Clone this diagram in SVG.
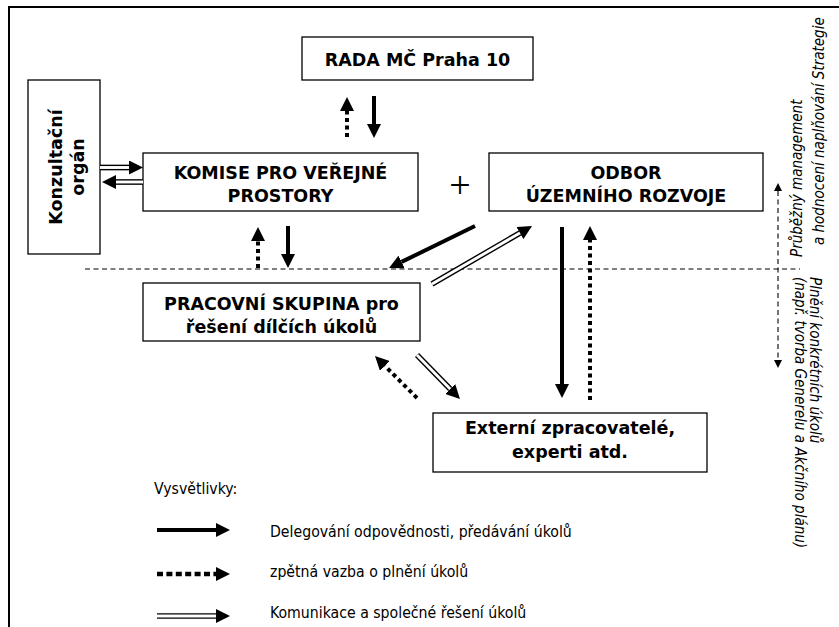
<svg xmlns="http://www.w3.org/2000/svg" width="839" height="627" viewBox="0 0 839 627">
<defs>
<style>
.box{fill:#fff;stroke:#000;stroke-width:1.3}
.b{font-family:"DejaVu Sans",Verdana,sans-serif;font-weight:bold;font-size:17.5px;text-anchor:middle;fill:#000}
.r{font-family:"DejaVu Sans Condensed","DejaVu Sans",sans-serif;font-stretch:condensed;font-size:15.7px;fill:#000}
.it{font-family:"DejaVu Sans Condensed","DejaVu Sans",sans-serif;font-stretch:condensed;font-style:italic;font-size:15px;fill:#000}
.solid{stroke:#000;stroke-width:4;fill:none;marker-end:url(#head)}
.dot{stroke:#000;stroke-width:4;stroke-dasharray:4 3.5;fill:none;marker-end:url(#head)}
.dbl{stroke:#000;stroke-width:5.7;fill:none;marker-end:url(#head)}
.dblin{stroke:#fff;stroke-width:2.9;fill:none}
.thin{stroke:#000;stroke-width:1.1;stroke-dasharray:5 3.5;fill:none}
</style>
<marker id="head" markerUnits="userSpaceOnUse" viewBox="0 0 14 14" markerWidth="14" markerHeight="14" refX="0" refY="7" orient="auto">
<path d="M0,0 L14,7 L0,14 z" fill="#000"/>
</marker>
<marker id="small" markerUnits="userSpaceOnUse" viewBox="0 0 8 8" markerWidth="8" markerHeight="8" refX="0" refY="4" orient="auto-start-reverse">
<path d="M0,0 L8,4 L0,8 z" fill="#000"/>
</marker>
</defs>
<rect width="839" height="627" fill="#fff"/>
<path d="M9,627 V7 H839" fill="none" stroke="#000" stroke-width="2"/>

<g id="rada">
<rect class="box" x="302" y="37" width="231" height="43"/>
<text class="b" x="417.5" y="65.5">RADA MČ Praha 10</text>
</g>
<g id="konzultacni">
<rect class="box" x="28" y="80" width="72" height="174"/>
<text class="b" transform="translate(62,167) rotate(-90)">Konzultační</text>
<text class="b" transform="translate(84,167) rotate(-90)">orgán</text>
</g>
<g id="komise">
<rect class="box" x="143" y="153" width="275" height="58"/>
<text class="b" x="280.5" y="178.5">KOMISE PRO VEŘEJNÉ</text>
<text class="b" x="280.5" y="202">PROSTORY</text>
</g>
<g id="plus">
<text x="460" y="198" font-family="Liberation Serif, Times New Roman, serif" font-size="38" text-anchor="middle" fill="#000">+</text>
</g>
<g id="odbor">
<rect class="box" x="489" y="153" width="274" height="58"/>
<text class="b" x="626" y="178.5">ODBOR</text>
<text class="b" x="626" y="202">ÚZEMNÍHO ROZVOJE</text>
</g>
<g id="pracovni">
<rect class="box" x="143" y="283" width="277" height="58"/>
<text class="b" x="281.5" y="309.5">PRACOVNÍ SKUPINA pro</text>
<text class="b" x="281.5" y="333">řešení dílčích úkolů</text>
</g>
<g id="externi">
<rect class="box" x="433" y="413" width="274" height="59"/>
<text class="b" x="570" y="434">Externí zpracovatelé,</text>
<text class="b" x="570" y="458">experti atd.</text>
</g>

<g id="side-labels">
<text class="it" transform="translate(802,257) rotate(-90)">Průběžný management</text>
<text class="it" transform="translate(824,245) rotate(-90)">a hodnocení naplňování Strategie</text>
<text class="it" transform="translate(810,277) rotate(90)">Plnění konkrétních úkolů</text>
<text class="it" transform="translate(795,277) rotate(90)">(např. tvorba Generelu a Akčního plánu)</text>
</g>

<g id="connectors">
<line class="thin" x1="85" y1="269" x2="800" y2="269"/>
<line class="thin" x1="778" y1="191" x2="778" y2="360" style="marker-start:url(#small);marker-end:url(#small)"/>

<line class="dot" x1="347" y1="137" x2="347" y2="111"/>
<line class="solid" x1="374" y1="96" x2="374" y2="124"/>

<line class="dbl" x1="100" y1="167.5" x2="129" y2="167.5"/>
<line class="dblin" x1="100" y1="167.5" x2="129" y2="167.5"/>
<line class="dbl" x1="143" y1="182" x2="116" y2="182"/>
<line class="dblin" x1="143" y1="182" x2="116" y2="182"/>

<line class="dot" x1="258" y1="268" x2="258" y2="241"/>
<line class="solid" x1="288" y1="226" x2="288" y2="254"/>

<line class="solid" x1="475" y1="226" x2="401.6" y2="261.9"/>
<line class="dbl" x1="432" y1="284" x2="519.9" y2="233"/>
<line class="dblin" x1="432" y1="284" x2="519.9" y2="233"/>

<line class="solid" x1="562" y1="227" x2="562" y2="384"/>
<line class="dot" x1="590" y1="400" x2="590" y2="240"/>

<line class="dbl" x1="417" y1="355" x2="450.2" y2="389"/>
<line class="dblin" x1="417" y1="355" x2="450.2" y2="389"/>
<line class="dot" x1="417" y1="398" x2="384.9" y2="365.9"/>
</g>

<g id="legend">
<text class="r" x="154" y="494">Vysvětlivky:</text>
<line class="solid" x1="157" y1="530" x2="216" y2="530"/>
<text class="r" x="270" y="537">Delegování odpovědnosti, předávání úkolů</text>
<line class="dot" x1="157" y1="574" x2="216" y2="574" style="stroke-width:4.5;stroke-dasharray:6 3.4"/>
<text class="r" x="270" y="577">zpětná vazba o plnění úkolů</text>
<line class="dbl" x1="157" y1="616" x2="216" y2="616"/>
<line class="dblin" x1="157" y1="616" x2="216" y2="616"/>
<text class="r" x="270" y="618">Komunikace a společné řešení úkolů</text>
</g>
</svg>
